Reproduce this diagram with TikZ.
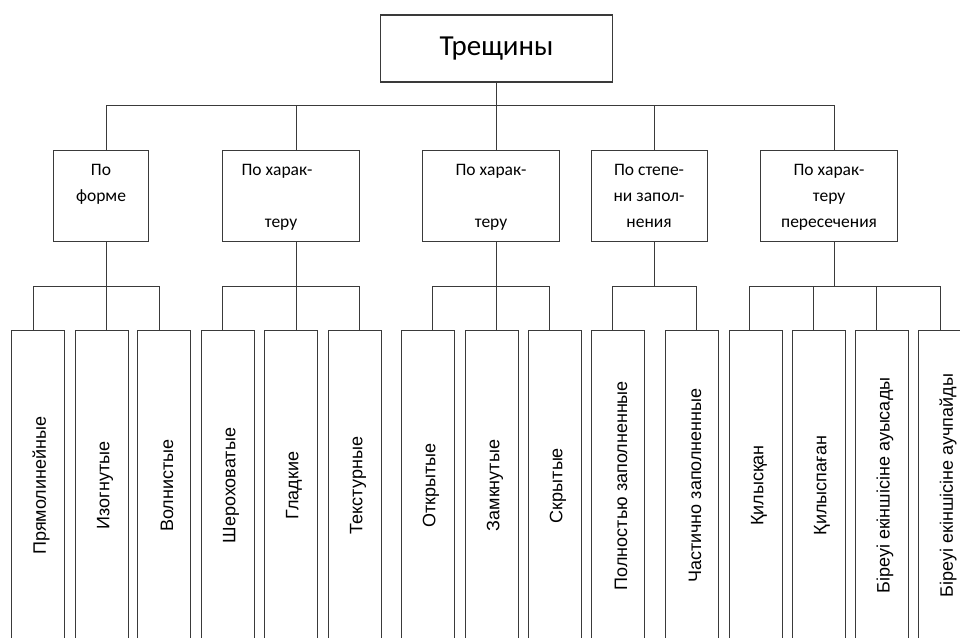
\documentclass[tikz,border=0pt]{standalone}
\usepackage{fontspec}
\usepackage{graphicx}
\setmainfont{Carlito}
\newfontfamily\leaffont{Liberation Sans}
\definecolor{edge}{HTML}{3A3A3A}
\newcommand{\vlabel}[1]{\rotatebox{90}{\raisebox{-3pt}[\height][\depth]{#1}}}

\tikzset{
  top/.style={draw=edge,line width=1.1pt,minimum width=232,minimum height=67,
    inner sep=0pt,font=\fontsize{29}{31}\selectfont},
  crit/.style={draw=edge,line width=1.1pt,anchor=north west,minimum height=91,
    inner sep=0pt,align=center,font=\fontsize{17.5}{26}\selectfont},
  leaf/.style={draw=edge,line width=1.1pt,anchor=north west,minimum width=53,
    minimum height=310,inner sep=0pt,font=\leaffont\fontsize{18}{20}\selectfont},
  wire/.style={draw=edge,line width=1.1pt}
}

\begin{document}
\begin{tikzpicture}[x=1pt,y=-1pt]
  \useasboundingbox (0,0) rectangle (960,637);
  \clip (0,0) rectangle (960,637);

  \node (cr) [top] at (496.5,48.5) {Трещины};

  \node (fo) [crit,minimum width=95] at (53,150) {\strut По\\форме\\\strut};
  \node (ch) [crit,minimum width=137] at (222,150)
    {\strut По харак-\hspace*{28pt}\\\strut\\теру\hspace*{20pt}\strut};
  \node (op) [crit,minimum width=137] at (422,150) {\strut По харак-\\\strut\\теру\strut};
  \node (fi) [crit,minimum width=116] at (590.5,150) {\strut По степе-\\ни запол-\\нения\strut};
  \node (is) [crit,minimum width=137] at (760,150) {\strut По харак-\\теру\\пересечения\strut};

  \node (st) [leaf] at (11,330) {\vlabel{Прямолинейные}};
  \node (cu) [leaf] at (75,330) {\vlabel{Изогнутые}};
  \node (wa) [leaf] at (137,330) {\vlabel{Волнистые}};
  \node (ro) [leaf] at (201,330) {\vlabel{Шероховатые}};
  \node (sm) [leaf] at (264,330) {\vlabel{Гладкие}};
  \node (te) [leaf] at (328,330) {\vlabel{Текстурные}};
  \node (opn) [leaf] at (401,330) {\vlabel{Открытые}};
  \node (cl) [leaf] at (465,330) {\vlabel{Замкнутые}};
  \node (hi) [leaf] at (528,330) {\vlabel{Скрытые}};
  \node (ff) [leaf] at (591,330) {\vlabel{Полностью заполненные}};
  \node (pf) [leaf] at (665,330) {\vlabel{Частично заполненные}};
  \node (cx) [leaf] at (729,330) {\vlabel{Қилысқан}};
  \node (nx) [leaf] at (792,330) {\vlabel{Қилыспаған}};
  \node (sh) [leaf] at (855,330) {\vlabel{Біреуі екіншісіне ауысады}};
  \node (ns) [leaf] at (918,330) {\vlabel{Біреуі екіншісіне аучпайды}};

  % root to the five criteria
  \path (node cs:name=cr,anchor=south) +(0,23) coordinate (crb);
  \draw[wire] (cr.south) -- (crb);
  \path (node cs:name=fo,anchor=north) +(5.5,0) coordinate (foi);
  \draw[wire] (crb) -| (foi);
  \path (node cs:name=ch,anchor=north) +(5.5,0) coordinate (chi);
  \draw[wire] (crb) -| (chi);
  \path (node cs:name=op,anchor=north) +(5.5,0) coordinate (opi);
  \draw[wire] (crb) -| (opi);
  \path (node cs:name=fi,anchor=north) +(5.5,0) coordinate (fii);
  \draw[wire] (crb) -| (fii);
  \path (node cs:name=is,anchor=north) +(5.5,0) coordinate (isi);
  \draw[wire] (crb) -| (isi);

  % criteria down to their buses
  \path (node cs:name=fo,anchor=south) +(5.5,0) coordinate (foo) +(5.5,44) coordinate (fob);
  \draw[wire] (foo) -- (fob);
  \path (node cs:name=ch,anchor=south) +(5.5,0) coordinate (cho) +(5.5,44) coordinate (chb);
  \draw[wire] (cho) -- (chb);
  \path (node cs:name=op,anchor=south) +(5.5,0) coordinate (opo) +(5.5,44) coordinate (opb);
  \draw[wire] (opo) -- (opb);
  \path (node cs:name=fi,anchor=south) +(5.5,0) coordinate (fio) +(5.5,44) coordinate (fib);
  \draw[wire] (fio) -- (fib);
  \path (node cs:name=is,anchor=south) +(5.5,0) coordinate (iso) +(5.5,44) coordinate (isb);
  \draw[wire] (iso) -- (isb);

  % buses to the leaves
  \path (node cs:name=st,anchor=north) +(-4.5,0) coordinate (sti);
  \draw[wire] (fob) -| (sti);
  \path (node cs:name=cu,anchor=north) +(4.5,0) coordinate (cui);
  \draw[wire] (fob) -| (cui);
  \path (node cs:name=wa,anchor=north) +(-4.5,0) coordinate (wai);
  \draw[wire] (fob) -| (wai);

  \path (node cs:name=ro,anchor=north) +(-5.5,0) coordinate (roi);
  \draw[wire] (chb) -| (roi);
  \path (node cs:name=sm,anchor=north) +(5.5,0) coordinate (smi);
  \draw[wire] (chb) -| (smi);
  \path (node cs:name=te,anchor=north) +(4.5,0) coordinate (tei);
  \draw[wire] (chb) -| (tei);

  \path (node cs:name=opn,anchor=north) +(4.5,0) coordinate (opni);
  \draw[wire] (opb) -| (opni);
  \path (node cs:name=cl,anchor=north) +(4.5,0) coordinate (cli);
  \draw[wire] (opb) -| (cli);
  \path (node cs:name=hi,anchor=north) +(-5.5,0) coordinate (hii);
  \draw[wire] (opb) -| (hii);

  \path (node cs:name=ff,anchor=north) +(-5.5,0) coordinate (ffi);
  \draw[wire] (fib) -| (ffi);
  \path (node cs:name=pf,anchor=north) +(4.5,0) coordinate (pfi);
  \draw[wire] (fib) -| (pfi);

  \path (node cs:name=cx,anchor=north) +(-6.5,0) coordinate (cxi);
  \draw[wire] (isb) -| (cxi);
  \path (node cs:name=nx,anchor=north) +(-5.5,0) coordinate (nxi);
  \draw[wire] (isb) -| (nxi);
  \path (node cs:name=sh,anchor=north) +(-5.5,0) coordinate (shi);
  \draw[wire] (isb) -| (shi);
  \path (node cs:name=ns,anchor=north) +(-4.5,0) coordinate (nsi);
  \draw[wire] (isb) -| (nsi);
\end{tikzpicture}
\end{document}
